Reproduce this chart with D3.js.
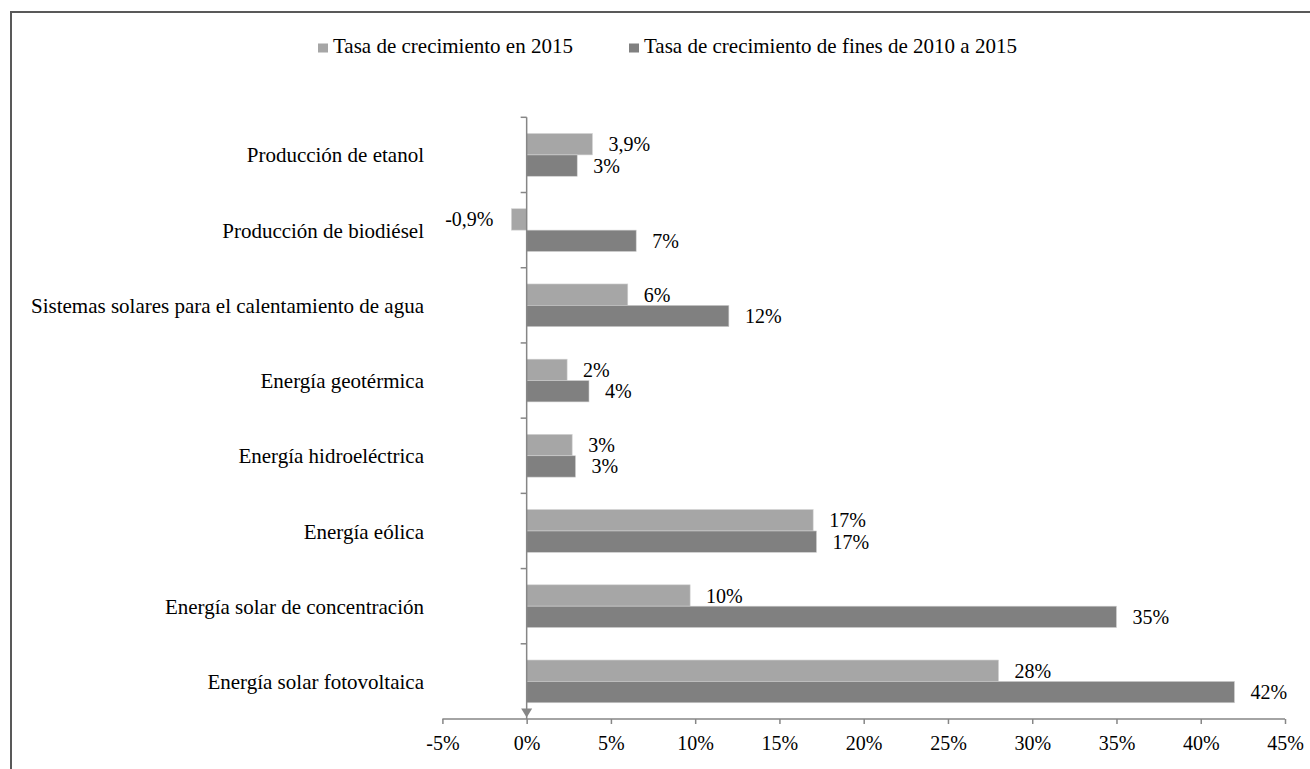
<!DOCTYPE html>
<html><head><meta charset="utf-8">
<script src="https://cdn.jsdelivr.net/npm/d3@7"></script>
<style>
html,body{margin:0;padding:0;background:#fff;}
svg{display:block;font-family:"Liberation Serif","Times New Roman",serif;}
</style></head>
<body>
<svg id="chart" width="1310" height="769"></svg>
<script>
const categories = [
  "Producción de etanol",
  "Producción de biodiésel",
  "Sistemas solares para el calentamiento de agua",
  "Energía geotérmica",
  "Energía hidroeléctrica",
  "Energía eólica",
  "Energía solar de concentración",
  "Energía solar fotovoltaica"
];
const seriesNames = ["Tasa de crecimiento en 2015", "Tasa de crecimiento de fines de 2010 a 2015"];
const growth2015 = [3.9, -0.9, 6.0, 2.4, 2.7, 17.0, 9.7, 28.0];
const growth2010to2015 = [3.0, 6.5, 12.0, 3.7, 2.9, 17.2, 35.0, 42.0];
const labels2015 = ["3,9%", "-0,9%", "6%", "2%", "3%", "17%", "10%", "28%"];
const labels2010to2015 = ["3%", "7%", "12%", "4%", "3%", "17%", "35%", "42%"];
const xTicks = [-5, 0, 5, 10, 15, 20, 25, 30, 35, 40, 45];
const colors = ["#A6A6A6", "#808080"];

const svg = d3.select("#chart");
const axisColor = "#868686";

// outer frame
svg.append("rect").attr("x", 11).attr("y", 12).attr("width", 1320).attr("height", 780)
  .attr("fill", "none").attr("stroke", "#595959").attr("stroke-width", 2);

const x = d3.scaleLinear().domain([-5, 45]).range([442.4, 1285]);
const y = d3.scaleBand().domain(categories).range([117.3, 719])
  .paddingInner(0.432).paddingOuter(0.216);
const bh = y.bandwidth() / 2;
const x0 = x(0);

// bars
const series = [growth2015, growth2010to2015];
const seriesLabels = [labels2015, labels2010to2015];
series.forEach((vals, si) => {
  const g = svg.append("g");
  g.selectAll("rect").data(vals).join("rect")
    .attr("x", d => x(Math.min(0, d)))
    .attr("y", (d, i) => y(categories[i]) + si * bh)
    .attr("width", d => Math.abs(x(d) - x0))
    .attr("height", bh)
    .attr("fill", colors[si])
    .attr("stroke", "#d0d0d0").attr("stroke-width", 0.6);
  g.selectAll("text").data(vals).join("text")
    .attr("x", d => d < 0 ? x(d) - 18 : x(d) + 16)
    .attr("y", (d, i) => y(categories[i]) + si * bh + bh / 2)
    .attr("dy", "0.35em")
    .attr("text-anchor", d => d < 0 ? "end" : "start")
    .attr("font-size", 20).attr("fill", "#000")
    .text((d, i) => seriesLabels[si][i]);
});

// x axis
const xAxis = d3.axisBottom(x).tickValues(xTicks).tickSize(5).tickFormat(d => d + "%");
const gx = svg.append("g").attr("transform", "translate(0,719)").call(xAxis);
gx.select(".domain").attr("stroke", axisColor).attr("stroke-width", 1.5)
  .attr("d", `M${x(-5)},0H${x(45)}`);
gx.selectAll(".tick line").attr("stroke", axisColor).attr("stroke-width", 1.5);
gx.selectAll(".tick text").attr("font-size", 20).attr("fill", "#000")
  .attr("font-family", "Liberation Serif, Times New Roman, serif")
  .attr("y", 17);

// y axis (vertical at 0)
const step = y.step();
const boundaries = categories.map(c => y(c) - step * y.paddingInner() / 2);
boundaries.push(boundaries[boundaries.length - 1] + step);
svg.append("line").attr("x1", x0).attr("x2", x0)
  .attr("y1", boundaries[0]).attr("y2", 719)
  .attr("stroke", axisColor).attr("stroke-width", 1.5);
svg.append("g").selectAll("line").data(boundaries.slice(0, -1)).join("line")
  .attr("x1", x0 - 6).attr("x2", x0).attr("y1", d => d).attr("y2", d => d)
  .attr("stroke", axisColor).attr("stroke-width", 1.5);
svg.append("path")
  .attr("d", `M${x0 - 5.5},708.5L${x0 + 5.5},708.5L${x0},717.5Z`)
  .attr("fill", axisColor);

// category labels
svg.append("g").selectAll("text").data(categories).join("text")
  .attr("x", 424)
  .attr("y", d => y(d) + y.bandwidth() / 2)
  .attr("dy", "0.36em")
  .attr("text-anchor", "end")
  .attr("font-size", 21).attr("fill", "#000")
  .text(d => d);

// legend
const legendPos = [{sx: 318, tx: 333}, {sx: 629, tx: 644}];
seriesNames.forEach((name, i) => {
  svg.append("rect").attr("x", legendPos[i].sx).attr("y", 43.5)
    .attr("width", 10).attr("height", 9).attr("fill", colors[i]);
  svg.append("text").attr("x", legendPos[i].tx).attr("y", 53.3)
    .attr("font-size", 21).attr("fill", "#000").text(name);
});
</script>
</body></html>
